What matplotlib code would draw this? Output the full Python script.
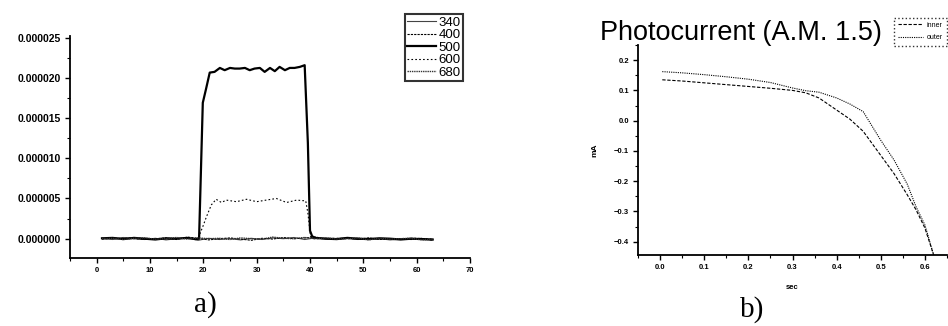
import matplotlib
matplotlib.use("Agg")
import matplotlib.pyplot as plt
from matplotlib.ticker import MultipleLocator, FormatStrFormatter
import numpy as np

plt.rcParams['font.family'] = ['Liberation Sans', 'DejaVu Sans']

# ---- panel a) : photocurrent vs time, values in units of 1e-6
x_base = [1, 3, 5, 7, 9, 11, 13, 15, 17, 19, 21, 23, 25, 27, 29, 31,
          33, 35, 37, 39, 41, 43, 45, 47, 49, 51, 53, 55, 57, 59, 61, 63]
y_340 = [0.05, -0.10, 0.15, 0.00, -0.10, 0.05, -0.15, 0.00, 0.10, -0.20, 0.05, -0.10, 0.00, -0.15, 0.05, -0.10,
         0.10, 0.00, 0.15, -0.10, 0.10, -0.05, 0.00, 0.10, -0.10, 0.05, 0.00, -0.15, -0.05, 0.00, -0.10, -0.15]
y_400 = [-0.05, 0.10, 0.00, 0.15, -0.05, 0.00, 0.10, -0.10, 0.20, 0.05, -0.15, 0.00, 0.10, -0.05, -0.20, 0.05,
         -0.05, 0.15, 0.00, 0.10, 0.20, 0.00, -0.10, 0.05, -0.05, 0.10, -0.10, 0.00, -0.05, -0.10, 0.05, -0.20]
y_680 = [0.00, 0.05, -0.10, 0.05, 0.10, -0.05, 0.00, 0.15, -0.05, 0.10, 0.00, 0.05, -0.10, 0.10, 0.00, -0.05,
         0.20, 0.05, 0.00, 0.15, 0.00, 0.10, -0.05, 0.00, 0.10, -0.15, 0.05, -0.05, 0.00, 0.05, -0.15, -0.05]

x_500 = [1, 3, 5, 7, 9, 11, 13, 15, 17, 18.5, 19.2, 19.9, 20.5, 21.2, 22.1, 23.1, 24.0, 25.0,
         25.9, 26.8, 27.8, 28.7, 29.6, 30.6, 31.5, 32.5, 33.4, 34.3, 35.3, 36.2, 37.1, 38.1,
         39.0, 39.6, 40.0, 40.4, 41, 43, 45, 47, 49, 51, 53, 55, 57, 59, 61, 63]
y_500 = [0.05, 0.10, -0.05, 0.10, 0.00, -0.10, 0.05, 0.00, 0.10, -0.05, 0.00, 16.9, 18.6, 20.65, 20.74, 21.23, 20.95, 21.23,
         21.15, 21.15, 21.23, 20.95, 21.15, 21.23, 20.74, 21.23, 20.83, 21.36, 20.95, 21.23, 21.23, 21.36,
         21.57, 11.9, 1.0, 0.30, 0.10, 0.00, -0.05, 0.10, 0.00, -0.05, 0.05, 0.00, -0.10, 0.00, -0.05, -0.10]

x_600 = [1, 5, 9, 13, 17, 19.0, 19.9, 20.6, 21.5, 22.4, 23.4, 24.3, 26.2, 28.1, 30.0, 31.8,
         33.7, 35.6, 37.5, 39.2, 39.6, 40.1, 40.6, 45, 50, 55, 60, 63]
y_600 = [0.00, 0.05, -0.05, 0.00, 0.05, 0.00, 1.5, 2.75, 4.2, 4.9, 4.5, 4.8, 4.6, 4.9, 4.6, 4.8,
         5.0, 4.5, 4.8, 4.7, 3.2, 0.3, 0.0, 0.05, -0.05, 0.00, 0.05, -0.05]

# ---- panel b) : photocurrent (A.M. 1.5)
v_inner = [0.005, 0.05, 0.10, 0.15, 0.20, 0.25, 0.30, 0.33, 0.36, 0.40, 0.43, 0.46, 0.50, 0.53, 0.56, 0.58, 0.60, 0.62]
i_inner = [0.135, 0.131, 0.125, 0.119, 0.113, 0.107, 0.100, 0.092, 0.075, 0.035, 0.005, -0.035, -0.115, -0.175, -0.245, -0.295, -0.355, -0.445]
v_outer = [0.005, 0.05, 0.10, 0.15, 0.20, 0.25, 0.30, 0.33, 0.36, 0.40, 0.43, 0.46, 0.50, 0.53, 0.56, 0.58, 0.60, 0.62]
i_outer = [0.162, 0.158, 0.152, 0.145, 0.137, 0.126, 0.108, 0.099, 0.094, 0.075, 0.055, 0.030, -0.065, -0.130, -0.210, -0.285, -0.345, -0.445]

fig = plt.figure(figsize=(9.48, 3.26), dpi=100)

def style_axis(ax, xmaj, xmin, ymaj, ymin, xsize, ysize):
    for s in ('top', 'right'):
        ax.spines[s].set_visible(False)
    for s in ('left', 'bottom'):
        ax.spines[s].set_linewidth(1.3)
    ax.xaxis.set_major_locator(MultipleLocator(xmaj))
    ax.xaxis.set_minor_locator(MultipleLocator(xmin))
    ax.yaxis.set_major_locator(MultipleLocator(ymaj))
    ax.yaxis.set_minor_locator(MultipleLocator(ymin))
    ax.tick_params(which='major', direction='out', length=3.5, width=1, pad=3)
    ax.tick_params(which='minor', direction='out', length=2, width=0.8)
    ax.tick_params(axis='x', labelsize=xsize)
    ax.tick_params(axis='y', labelsize=ysize)

# panel a
ax1 = fig.add_axes([70/948, 1-258/326, 400/948, 222/326])
scale = 1e-6
ax1.plot(x_base, np.array(y_340)*scale, color='#444444', lw=0.8, label='340')
ax1.plot(x_base, np.array(y_400)*scale, color='black', lw=0.8, dashes=(2, 1), label='400')
ax1.plot(x_500, np.array(y_500)*scale, color='black', lw=1.6, label='500')
ax1.plot(x_600, np.array(y_600)*scale, color='black', lw=0.8, dashes=(1.5, 2), label='600')
ax1.plot(x_base, np.array(y_680)*scale, color='#333333', lw=1.0, dashes=(1, 0.6), label='680')
ax1.set_xlim(-5, 70)
ax1.set_ylim(-2.4e-6, 2.52e-5)
style_axis(ax1, 10, 5, 5e-6, 2.5e-6, 5.5, 7.5)
ax1.yaxis.set_major_formatter(FormatStrFormatter('%.6f'))
for lab in ax1.get_xticklabels() + ax1.get_yticklabels():
    lab.set_fontweight('bold')
leg1 = ax1.legend(loc='upper right', bbox_to_anchor=(0.9825, 1.10), borderaxespad=0,
                  fontsize=9.5, frameon=True, fancybox=False, handlelength=2.2,
                  handletextpad=0.15, labelspacing=0.02, borderpad=0.2)
leg1.get_frame().set_edgecolor('black')
leg1.get_frame().set_linewidth(1.5)

# panel b
ax2 = fig.add_axes([638/948, 1-255/326, 309/948, 210/326])
ax2.plot(v_inner, i_inner, color='black', lw=0.8, dashes=(3, 1.5), label='inner')
ax2.plot(v_outer, i_outer, color='black', lw=0.8, dashes=(1, 1), label='outer')
ax2.set_xlim(-0.05, 0.65)
ax2.set_ylim(-0.444, 0.25)
style_axis(ax2, 0.1, 0.05, 0.1, 0.05, 5.5, 5.5)
for lab in ax2.get_xticklabels() + ax2.get_yticklabels():
    lab.set_fontweight('bold')
ax2.set_xlabel('sec', fontsize=5.5, fontweight='bold', labelpad=9)
ax2.set_ylabel('mA', fontsize=6, fontweight='bold', labelpad=11)
leg2 = ax2.legend(loc='upper right', bbox_to_anchor=(1.0, 1.13), borderaxespad=0,
                  fontsize=5, frameon=True, fancybox=False, handlelength=3.5,
                  handletextpad=0.6, labelspacing=0.8, borderpad=0.6)
leg2.get_frame().set_edgecolor('black')
leg2.get_frame().set_linestyle(':')
leg2.get_frame().set_linewidth(1.0)

fig.text(741/948, 1-40/326, 'Photocurrent (A.M. 1.5)', fontsize=19.5, ha='center', va='baseline')

fig.text(205/948, 1-305/326, 'a)', fontsize=21, family='Liberation Serif', ha='center', va='center')
fig.text(752/948, 1-310/326, 'b)', fontsize=21, family='Liberation Serif', ha='center', va='center')

fig.savefig('out.png', dpi=100)
